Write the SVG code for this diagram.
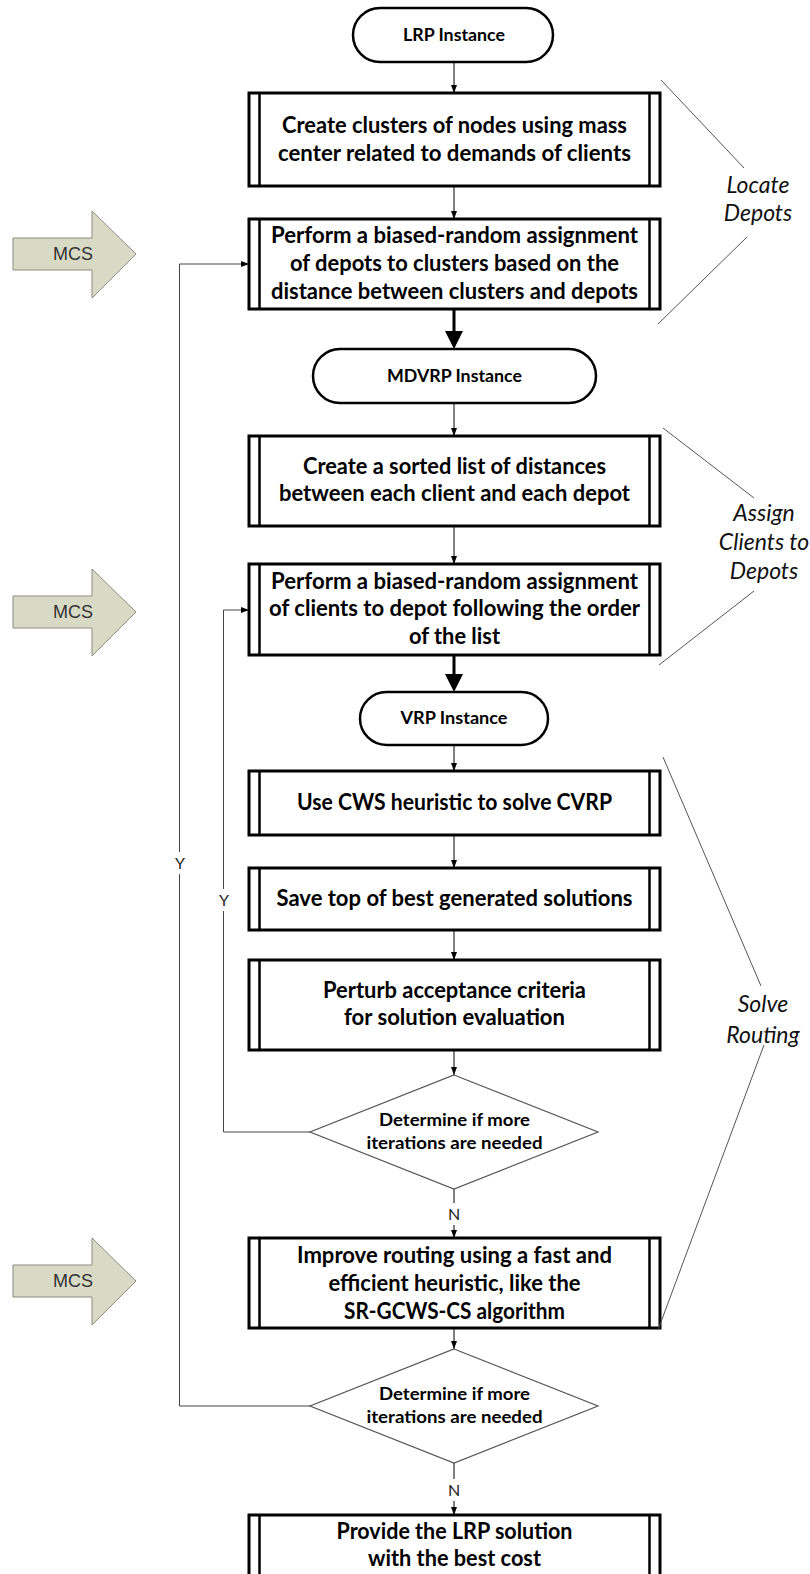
<svg xmlns="http://www.w3.org/2000/svg" width="810" height="1574" viewBox="0 0 810 1574">
<style>
.term{fill:#fff;stroke:#000;stroke-width:2.5}
.box{fill:#fff;stroke:#000;stroke-width:3}
.bar{stroke:#000;stroke-width:2.5}
.dia{fill:#fff;stroke:#555;stroke-width:1.2}
.t{font-family:Lato,"Liberation Sans",sans-serif;font-weight:bold;font-size:22px;fill:#000;text-anchor:middle}
.ts{font-family:Lato,"Liberation Sans",sans-serif;font-weight:bold;font-size:16.5px;fill:#000;text-anchor:middle}
.tl{font-family:Lato,"Liberation Sans",sans-serif;font-size:16px;fill:#222;text-anchor:middle}
.ti{font-family:Lato,"Liberation Sans",sans-serif;font-style:italic;font-size:23px;fill:#111;text-anchor:middle}
.mcs{fill:#d9dac6;stroke:#8c8c80;stroke-width:1}
.mt{font-family:"Liberation Sans",Arial,sans-serif;font-size:18px;fill:#333;text-anchor:middle}
.c{fill:none;stroke:#000;stroke-width:1}
.loop{fill:none;stroke:#444;stroke-width:1}
.br{fill:none;stroke:#555;stroke-width:1}
</style>
<defs>
<marker id="ah" markerWidth="8" markerHeight="6" refX="8" refY="3" orient="auto" markerUnits="userSpaceOnUse"><path d="M0,0 L8,3 L0,6 z" fill="#000"/></marker>
</defs>

<g id="connectors">
<line class="c" x1="454" y1="62" x2="454" y2="93" marker-end="url(#ah)"/>
<line class="c" x1="454" y1="186" x2="454" y2="219" marker-end="url(#ah)"/>
<line x1="454" y1="309" x2="454" y2="333" stroke="#000" stroke-width="3"/>
<path d="M445,331 L463,331 L454,349 z" fill="#000"/>
<line class="c" x1="454" y1="403" x2="454" y2="436" marker-end="url(#ah)"/>
<line class="c" x1="454" y1="526" x2="454" y2="564" marker-end="url(#ah)"/>
<line x1="454" y1="655" x2="454" y2="676" stroke="#000" stroke-width="3"/>
<path d="M445,674 L463,674 L454,692 z" fill="#000"/>
<line class="c" x1="454" y1="745" x2="454" y2="771" marker-end="url(#ah)"/>
<line class="c" x1="454" y1="835" x2="454" y2="868" marker-end="url(#ah)"/>
<line class="c" x1="454" y1="930" x2="454" y2="960" marker-end="url(#ah)"/>
<line class="c" x1="454" y1="1050" x2="454" y2="1075" marker-end="url(#ah)"/>
<line class="c" x1="454" y1="1189" x2="454" y2="1238" marker-end="url(#ah)"/>
<line class="c" x1="454" y1="1328" x2="454" y2="1349" marker-end="url(#ah)"/>
<line class="c" x1="454" y1="1463" x2="454" y2="1515" marker-end="url(#ah)"/>
<path class="loop" d="M310,1132 L223.5,1132 L223.5,610 L249,610" marker-end="url(#ah)"/>
<path class="loop" d="M310,1406 L179.5,1406 L179.5,264 L249,264" marker-end="url(#ah)"/>
<rect x="447" y="1203" width="14" height="22" fill="#fff"/>
<text class="tl" x="454" y="1220">N</text>
<rect x="447" y="1479" width="14" height="22" fill="#fff"/>
<text class="tl" x="454" y="1496">N</text>
<rect x="173" y="852" width="14" height="22" fill="#fff"/>
<text class="tl" x="180" y="869">Y</text>
<rect x="217" y="889" width="14" height="22" fill="#fff"/>
<text class="tl" x="224" y="906">Y</text>
</g>

<g id="lrp-instance">
<rect class="term" x="353" y="8" width="200" height="54" rx="27"/>
<text class="ts" x="454" y="41" textLength="102" lengthAdjust="spacingAndGlyphs">LRP Instance</text>
</g>

<g id="create-clusters">
<rect class="box" x="249" y="93" width="411" height="93"/>
<line class="bar" x1="259.5" y1="93" x2="259.5" y2="186"/>
<line class="bar" x1="649.5" y1="93" x2="649.5" y2="186"/>
<text class="t" x="454.5" y="133" textLength="345" lengthAdjust="spacingAndGlyphs">Create clusters of nodes using mass</text>
<text class="t" x="454.5" y="161" textLength="353" lengthAdjust="spacingAndGlyphs">center related to demands of clients</text>
</g>

<g id="assign-depots">
<rect class="box" x="249" y="219" width="411" height="90"/>
<line class="bar" x1="259.5" y1="219" x2="259.5" y2="309"/>
<line class="bar" x1="649.5" y1="219" x2="649.5" y2="309"/>
<text class="t" x="454.5" y="243" textLength="367" lengthAdjust="spacingAndGlyphs">Perform a biased-random assignment</text>
<text class="t" x="454.5" y="271" textLength="329" lengthAdjust="spacingAndGlyphs">of depots to clusters based on the</text>
<text class="t" x="454.5" y="299" textLength="367" lengthAdjust="spacingAndGlyphs">distance between clusters and depots</text>
</g>

<g id="mdvrp-instance">
<rect class="term" x="313" y="349" width="283" height="54" rx="27"/>
<text class="ts" x="454.5" y="382" textLength="135" lengthAdjust="spacingAndGlyphs">MDVRP Instance</text>
</g>

<g id="sorted-list">
<rect class="box" x="249" y="436" width="411" height="90"/>
<line class="bar" x1="259.5" y1="436" x2="259.5" y2="526"/>
<line class="bar" x1="649.5" y1="436" x2="649.5" y2="526"/>
<text class="t" x="454.5" y="474" textLength="303" lengthAdjust="spacingAndGlyphs">Create a sorted list of distances</text>
<text class="t" x="454.5" y="501" textLength="351" lengthAdjust="spacingAndGlyphs">between each client and each depot</text>
</g>

<g id="assign-clients">
<rect class="box" x="249" y="564" width="411" height="91"/>
<line class="bar" x1="259.5" y1="564" x2="259.5" y2="655"/>
<line class="bar" x1="649.5" y1="564" x2="649.5" y2="655"/>
<text class="t" x="454.5" y="589" textLength="367" lengthAdjust="spacingAndGlyphs">Perform a biased-random assignment</text>
<text class="t" x="454.5" y="616" textLength="371" lengthAdjust="spacingAndGlyphs">of clients to depot following the order</text>
<text class="t" x="454.5" y="644" textLength="91" lengthAdjust="spacingAndGlyphs">of the list</text>
</g>

<g id="vrp-instance">
<rect class="term" x="360" y="692" width="188" height="53" rx="26.5"/>
<text class="ts" x="454" y="724" textLength="107" lengthAdjust="spacingAndGlyphs">VRP Instance</text>
</g>

<g id="cws">
<rect class="box" x="249" y="771" width="411" height="64"/>
<line class="bar" x1="259.5" y1="771" x2="259.5" y2="835"/>
<line class="bar" x1="649.5" y1="771" x2="649.5" y2="835"/>
<text class="t" x="454.5" y="810" textLength="315" lengthAdjust="spacingAndGlyphs">Use CWS heuristic to solve CVRP</text>
</g>

<g id="save-top">
<rect class="box" x="249" y="868" width="411" height="62"/>
<line class="bar" x1="259.5" y1="868" x2="259.5" y2="930"/>
<line class="bar" x1="649.5" y1="868" x2="649.5" y2="930"/>
<text class="t" x="454.5" y="906" textLength="356" lengthAdjust="spacingAndGlyphs">Save top of best generated solutions</text>
</g>

<g id="perturb">
<rect class="box" x="249" y="960" width="411" height="90"/>
<line class="bar" x1="259.5" y1="960" x2="259.5" y2="1050"/>
<line class="bar" x1="649.5" y1="960" x2="649.5" y2="1050"/>
<text class="t" x="454.5" y="998" textLength="263" lengthAdjust="spacingAndGlyphs">Perturb acceptance criteria</text>
<text class="t" x="454.5" y="1025" textLength="221" lengthAdjust="spacingAndGlyphs">for solution evaluation</text>
</g>

<g id="decision-1">
<polygon class="dia" points="454,1075 598,1132 454,1189 310,1132"/>
<text class="ts" x="454.5" y="1126" textLength="151" lengthAdjust="spacingAndGlyphs">Determine if more</text>
<text class="ts" x="454.5" y="1149" textLength="176" lengthAdjust="spacingAndGlyphs">iterations are needed</text>
</g>

<g id="improve-routing">
<rect class="box" x="249" y="1238" width="411" height="90"/>
<line class="bar" x1="259.5" y1="1238" x2="259.5" y2="1328"/>
<line class="bar" x1="649.5" y1="1238" x2="649.5" y2="1328"/>
<text class="t" x="454.5" y="1263" textLength="315" lengthAdjust="spacingAndGlyphs">Improve routing using a fast and</text>
<text class="t" x="454.5" y="1291" textLength="252" lengthAdjust="spacingAndGlyphs">efficient heuristic, like the</text>
<text class="t" x="454.5" y="1319" textLength="221" lengthAdjust="spacingAndGlyphs">SR-GCWS-CS algorithm</text>
</g>

<g id="decision-2">
<polygon class="dia" points="454,1349 598,1406 454,1463 310,1406"/>
<text class="ts" x="454.5" y="1400" textLength="151" lengthAdjust="spacingAndGlyphs">Determine if more</text>
<text class="ts" x="454.5" y="1423" textLength="176" lengthAdjust="spacingAndGlyphs">iterations are needed</text>
</g>

<g id="provide-solution">
<rect class="box" x="249" y="1515" width="411" height="100"/>
<line class="bar" x1="259.5" y1="1515" x2="259.5" y2="1615"/>
<line class="bar" x1="649.5" y1="1515" x2="649.5" y2="1615"/>
<text class="t" x="454.5" y="1539" textLength="236" lengthAdjust="spacingAndGlyphs">Provide the LRP solution</text>
<text class="t" x="454.5" y="1566" textLength="173" lengthAdjust="spacingAndGlyphs">with the best cost</text>
</g>

<g id="mcs-1">
<path class="mcs" d="M13,238 L92,238 L92,211 L136,254 L92,298 L92,270 L13,270 Z"/>
<text class="mt" x="73" y="260" textLength="40" lengthAdjust="spacingAndGlyphs">MCS</text>
</g>
<g id="mcs-2">
<path class="mcs" d="M13,596 L92,596 L92,569 L136,612 L92,656 L92,628 L13,628 Z"/>
<text class="mt" x="73" y="618" textLength="40" lengthAdjust="spacingAndGlyphs">MCS</text>
</g>
<g id="mcs-3">
<path class="mcs" d="M13,1265 L92,1265 L92,1238 L136,1281 L92,1325 L92,1297 L13,1297 Z"/>
<text class="mt" x="73" y="1287" textLength="40" lengthAdjust="spacingAndGlyphs">MCS</text>
</g>

<g id="phase-locate">
<line class="br" x1="661" y1="80" x2="744" y2="168"/>
<line class="br" x1="747" y1="237" x2="658" y2="324"/>
<text class="ti" x="758" y="193">Locate</text>
<text class="ti" x="758" y="221">Depots</text>
</g>
<g id="phase-assign">
<line class="br" x1="663" y1="428" x2="754" y2="498"/>
<line class="br" x1="754" y1="591" x2="659" y2="665"/>
<text class="ti" x="764" y="521">Assign</text>
<text class="ti" x="764" y="550">Clients to</text>
<text class="ti" x="764" y="579">Depots</text>
</g>
<g id="phase-solve">
<line class="br" x1="663" y1="757" x2="761" y2="986"/>
<line class="br" x1="764" y1="1045" x2="658" y2="1330"/>
<text class="ti" x="763" y="1012">Solve</text>
<text class="ti" x="763" y="1043">Routing</text>
</g>
</svg>
